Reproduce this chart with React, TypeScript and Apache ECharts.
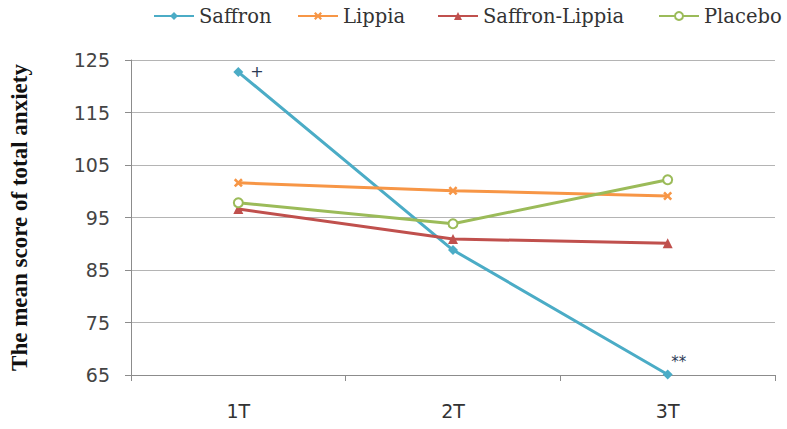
import React, { useEffect, useRef } from "react";
import * as echarts from "echarts";

const categories = ["1T", "2T", "3T"];
const seriesNames = ["Saffron", "Lippia", "Saffron-Lippia", "Placebo"];
const saffron = [122.7, 88.8, 65.1];
const lippia = [101.6, 100.1, 99.1];
const saffronLippia = [96.6, 90.9, 90.1];
const placebo = [97.8, 93.8, 102.2];
const yTicks = { min: 65, max: 125, interval: 10 };
const notes = ["+", "", "**"];

export default function App() {
  const ref = useRef<HTMLDivElement>(null);
  useEffect(() => {
    const chart = echarts.init(ref.current!, null, { renderer: "svg" });
    const lineW = 3;
    const mk = (name: string, data: any[], color: string, symbol: string, size: number) => ({
      name,
      type: "line",
      data,
      symbol,
      symbolSize: size,
      lineStyle: { color, width: lineW },
      itemStyle: { color },
      emphasis: { disabled: true },
    });
    const saffronData = saffron.map((v, i) =>
      notes[i]
        ? {
            value: v,
            label: {
              show: true,
              formatter: notes[i],
              position: i === 0 ? "right" : "top",
              offset: i === 0 ? [2, -1] : [11, 5],
              color: "#2b3a55",
              fontSize: i === 0 ? 16 : 15,
              fontFamily: "DejaVu Sans",
            },
          }
        : v
    );
    const legendLefts = [148, 292, 432, 653];
    const legends = seriesNames.map((n, i) => ({
      top: 1,
      left: legendLefts[i],
      itemWidth: 40,
      itemHeight: 10,
      textStyle: { fontFamily: "DejaVu Serif", fontSize: 19.5, color: "#333" },
      data: [n],
    }));
    chart.setOption({
      animation: false,
      backgroundColor: "#ffffff",
      grid: { left: 121, right: 12, top: 60, bottom: 54 },
      legend: legends,
      xAxis: {
        type: "category",
        data: categories,
        boundaryGap: true,
        axisLine: { lineStyle: { color: "#8c8c8c", width: 1 } },
        axisTick: { show: true, length: 6, lineStyle: { color: "#8c8c8c" } },
        axisLabel: { color: "#333", fontSize: 19, fontFamily: "DejaVu Sans", margin: 26 },
      },
      yAxis: {
        type: "value",
        min: yTicks.min,
        max: yTicks.max,
        interval: yTicks.interval,
        name: "The mean score of total anxiety",
        nameLocation: "middle",
        nameGap: 100,
        nameRotate: 90,
        nameTextStyle: { fontFamily: "Liberation Serif", fontWeight: "bold", fontSize: 23, color: "#111" },
        axisLine: { show: true, lineStyle: { color: "#8c8c8c", width: 1 } },
        axisTick: { show: true, inside: false, length: 6, lineStyle: { color: "#8c8c8c" } },
        axisLabel: { color: "#444", fontSize: 19, fontFamily: "DejaVu Sans", margin: 21 },
        splitLine: { show: true, lineStyle: { color: "#b4b4b4", width: 1 } },
      },
      series: [
        mk("Saffron", saffronData, "#4BACC6", "diamond", 10),
        mk("Lippia", lippia, "#F79646", "path://M0,2L2,0L5,3L8,0L10,2L7,5L10,8L8,10L5,7L2,10L0,8L3,5Z", 9),
        mk("Saffron-Lippia", saffronLippia, "#C0504D", "triangle", 10),
        {
          ...mk("Placebo", placebo, "#9BBB59", "emptyCircle", 9),
          itemStyle: { color: "#9BBB59", borderWidth: 2.5 },
        },
      ],
    });
    return () => chart.dispose();
  }, []);
  return (
    <div
      ref={ref}
      style={{ position: "absolute", left: 0, top: 0, width: 787, height: 429 }}
    />
  );
}
